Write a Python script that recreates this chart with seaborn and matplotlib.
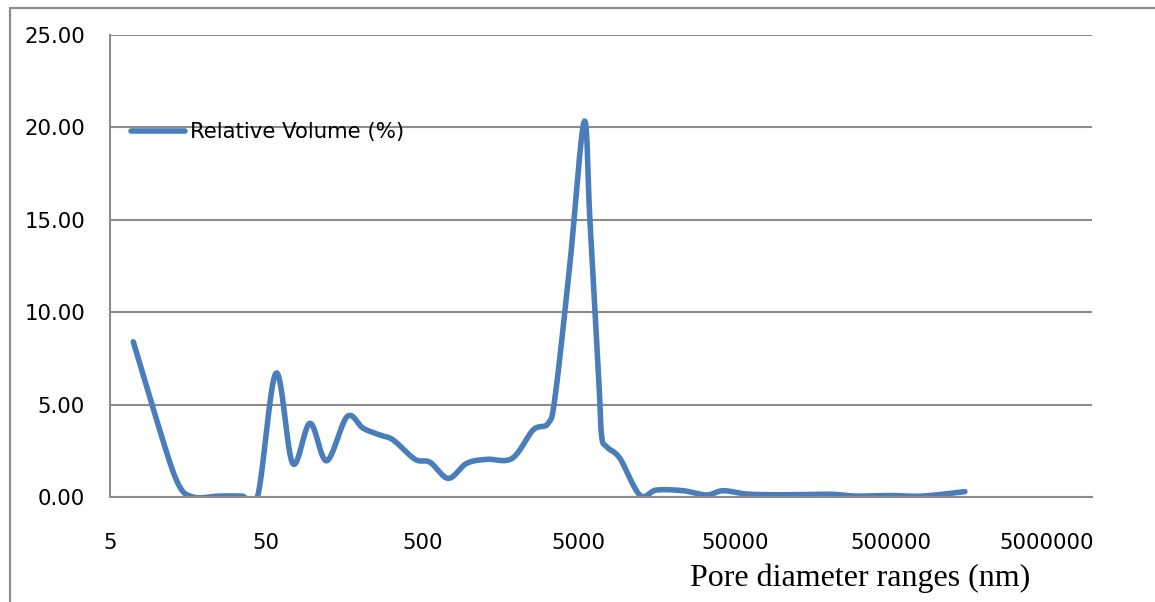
import numpy as np
import pandas as pd
import matplotlib
matplotlib.use("Agg")
import matplotlib.pyplot as plt
from matplotlib.lines import Line2D
from matplotlib.ticker import FixedLocator, FixedFormatter, NullLocator
import seaborn as sns

# ---- data ----
pore_nm = [7.05, 10.0, 13.5, 17.0, 25.0, 35.0, 44.0, 57.8, 73.9, 95.4, 122, 165,
           209, 268, 326, 449, 560, 733, 961, 1290, 1880, 2564, 3200, 3550, 4404,
           5434, 5915, 6755, 7030, 7565, 9206, 12360, 15810, 23400, 33000, 42200,
           60000, 100000, 200000, 300000, 500000, 800000, 1490000]
rel_vol = [8.40, 4.10, 0.80, 0.00, 0.05, 0.05, 0.00, 6.70, 1.82, 3.99, 1.96, 4.35,
           3.72, 3.35, 3.08, 2.04, 1.88, 1.01, 1.82, 2.04, 2.09, 3.63, 3.99, 5.50, 12.60,
           20.31, 15.00, 6.20, 3.30, 2.72, 2.09, 0.10, 0.38, 0.34, 0.11, 0.34,
           0.16, 0.12, 0.15, 0.05, 0.08, 0.05, 0.29]
x_ticks = [5, 50, 500, 5000, 50000, 500000, 5000000]
x_tick_labels = ["5", "50", "500", "5000", "50000", "500000", "5000000"]
y_ticks = [0, 5, 10, 15, 20, 25]
series_name = "Relative Volume (%)"
x_label = "Pore diameter ranges (nm)"


def smooth(xs, ys, n=24):
    """Excel-like smoothed line: uniform Catmull-Rom in (log10 x, y)."""
    u = np.log10(np.asarray(xs, float))
    v = np.asarray(ys, float)
    P = np.column_stack([u, v])
    P = np.vstack([P[0], P, P[-1]])
    out = []
    t = np.linspace(0, 1, n, endpoint=False)[:, None]
    for i in range(1, len(P) - 2):
        p0, p1, p2, p3 = P[i - 1], P[i], P[i + 1], P[i + 2]
        c1 = p1 + (p2 - p0) / 6.0
        c2 = p2 - (p3 - p1) / 6.0
        seg = ((1 - t) ** 3) * p1 + 3 * ((1 - t) ** 2) * t * c1 + 3 * (1 - t) * t ** 2 * c2 + t ** 3 * p2
        out.append(seg)
    out.append(P[-2][None, :])
    out = np.vstack(out)
    return 10 ** out[:, 0], out[:, 1]


sx, sy = smooth(pore_nm, rel_vol)
df = pd.DataFrame({"pore": sx, "vol": sy, "series": series_name})

sns.set_style("white")
plt.rcParams["font.family"] = ["DejaVu Sans"]

W, H = 1155, 602
fig = plt.figure(figsize=(W / 100, H / 100), dpi=100)
ax = fig.add_axes([110 / W, 1 - 497 / H, (1092 - 110) / W, (497 - 35) / H])

grid_c = "#8c8c8c"
line_c = "#4a7ebb"
fs = 15.3
lw = 4.0

sns.lineplot(data=df, x="pore", y="vol", hue="series", palette=[line_c],
             sort=False, estimator=None, linewidth=lw, ax=ax)
for ln in ax.get_lines():
    ln.set_solid_joinstyle("round")
    ln.set_solid_capstyle("round")
ax.set_xscale("log")
ax.set_xlim(5, 5 * 10 ** (6 + 45 / 156.2))
ax.set_ylim(0, 25)

ax.xaxis.set_major_locator(FixedLocator(x_ticks))
ax.xaxis.set_major_formatter(FixedFormatter(x_tick_labels))
ax.xaxis.set_minor_locator(NullLocator())
ax.set_yticks(y_ticks)
ax.set_yticklabels([f"{v:.2f}" for v in y_ticks])

ax.grid(axis="y", color=grid_c, linewidth=1.5)
ax.grid(axis="x", visible=False)
ax.set_axisbelow(True)
for s in ["top", "right"]:
    ax.spines[s].set_visible(False)
for s in ["left", "bottom"]:
    ax.spines[s].set_color(grid_c)
    ax.spines[s].set_linewidth(1.5)

ax.tick_params(axis="both", which="major", direction="out", length=5, width=1.3,
               color=grid_c, labelsize=fs, labelcolor="black")
ax.tick_params(axis="y", pad=13)
ax.tick_params(axis="x", pad=21)
ax.set_xlabel("")
ax.set_ylabel("")

leg = ax.legend(loc="center left", bbox_to_anchor=((131 - 110) / 982, (497 - 132) / 462),
                frameon=False, fontsize=fs, handlelength=2.55, handletextpad=0.24,
                borderaxespad=0, borderpad=0, labelcolor="black")
for h in leg.get_lines():
    h.set_linewidth(lw)

fig.text(690 / W, 1 - 586 / H, x_label, family="Liberation Serif", fontsize=23,
         color="black", ha="left", va="baseline")

# outer frame (left and top edges visible in the reference)
fig.add_artist(Line2D([10 / W, 10 / W], [0, 1 - 8 / H], transform=fig.transFigure,
                      color=grid_c, linewidth=1.6))
fig.add_artist(Line2D([10 / W, 1], [1 - 8 / H, 1 - 8 / H], transform=fig.transFigure,
                      color=grid_c, linewidth=1.6))

fig.savefig("out.png", dpi=100)
